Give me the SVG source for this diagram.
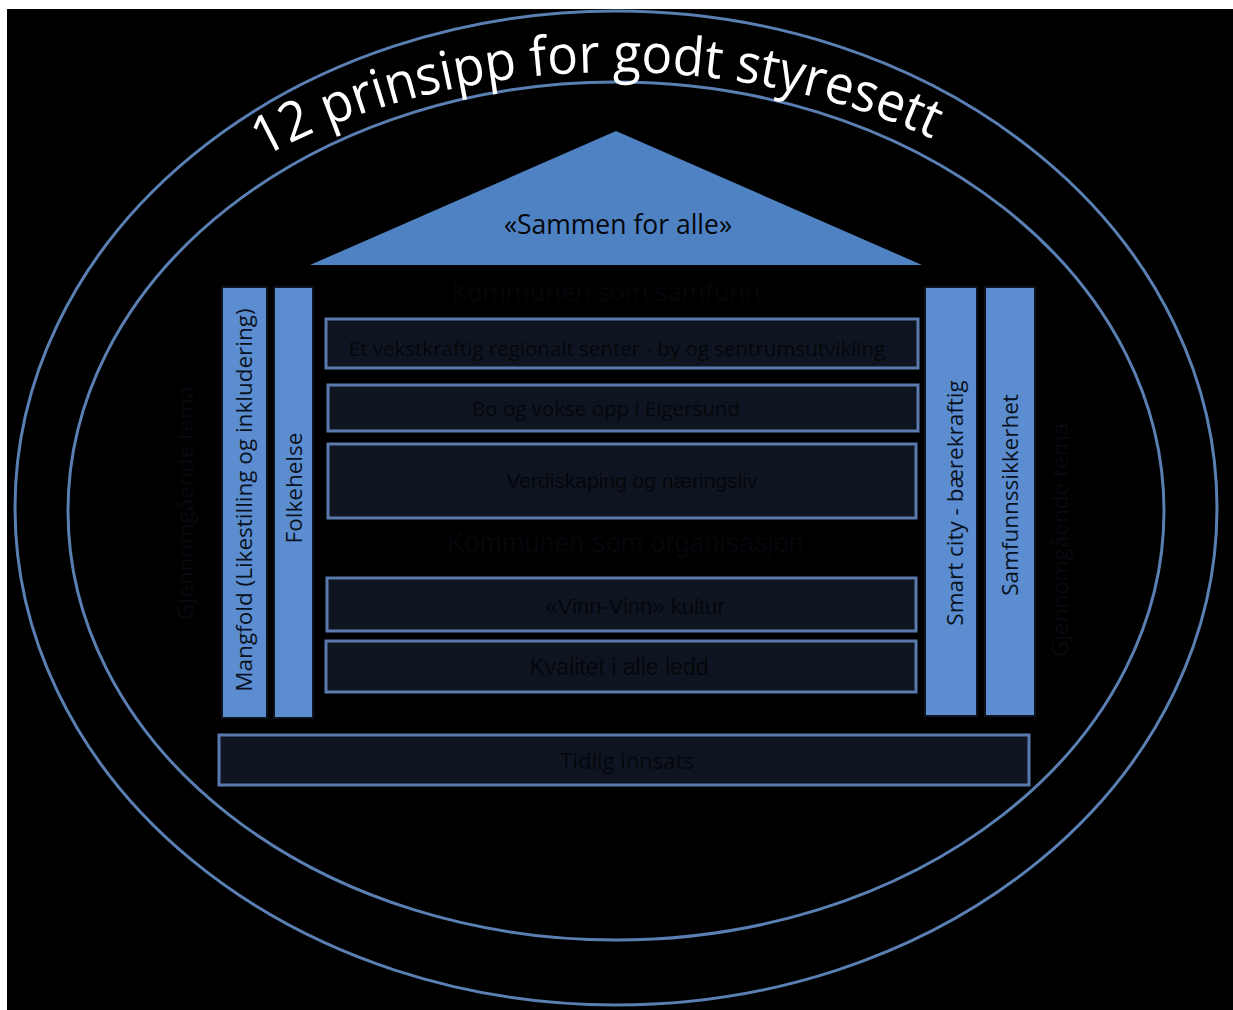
<svg xmlns="http://www.w3.org/2000/svg" width="1233" height="1010" viewBox="0 0 1233 1010">
<style>
.ring{fill:none;stroke:#5a7fb3;stroke-width:3}
.pillar{fill:#5b8dd0;stroke:#0d1420;stroke-width:2}
.box{fill:#0f1520;stroke:#5a7aae;stroke-width:3}
.t{font-family:"Open Sans","Liberation Sans",sans-serif;fill:#04070b;text-anchor:middle}
.a{font-family:"Liberation Sans",Arial,sans-serif;fill:#04070b;text-anchor:middle}
.pt{font-family:"Open Sans","Liberation Sans",sans-serif;fill:#0a1220;font-size:22.5px;text-anchor:middle}
.gt{font-family:"Open Sans","Liberation Sans",sans-serif;fill:#070a10;font-size:22.5px;text-anchor:middle}
</style>
<defs>
<path id="arc" d="M 21 508 A 595 436 0 0 1 1211 508"/>
</defs>
<rect x="0" y="0" width="1233" height="1010" fill="#ffffff"/>
<rect x="7" y="9" width="1226" height="1001" fill="#000000"/>
<g id="outer">
<ellipse cx="616" cy="508" rx="601" ry="497" fill="#000000" class="ring"/>
</g>
<g id="inner">
<ellipse cx="616" cy="511" rx="548" ry="429" fill="#111722" class="ring"/>
</g>
<g id="title">
<text font-family="'Open Sans','Liberation Sans',sans-serif" font-size="54" fill="#ffffff" text-anchor="middle"><textPath href="#arc" startOffset="794" textLength="692" lengthAdjust="spacingAndGlyphs">12 prinsipp for godt styresett</textPath></text>
</g>
<g id="roof">
<polygon points="616,131 310,265 922,265" fill="#4f82c3"/>
<text class="t" x="618" y="234" font-size="26.5">«Sammen for alle»</text>
</g>
<g id="heading1"><text class="t" x="606" y="301" font-size="25.5">Kommunen som samfunn</text></g>
<g id="box1"><rect class="box" x="326" y="319" width="592" height="49"/><text class="t" x="617" y="356" font-size="20.5">Et vekstkraftig regionalt senter - by og sentrumsutvikling</text></g>
<g id="box2"><rect class="box" x="328" y="385" width="590" height="46"/><text class="t" x="606" y="416" font-size="20.5">Bo og vokse opp i Eigersund</text></g>
<g id="box3"><rect class="box" x="328" y="444" width="588" height="74"/><text class="a" x="632" y="488" font-size="21">Verdiskaping og næringsliv</text></g>
<g id="heading2"><text class="a" x="625" y="552" font-size="27">Kommunen som organisasjon</text></g>
<g id="box4"><rect class="box" x="327" y="578" width="589" height="53"/><text class="a" x="635" y="614" font-size="22">«Vinn-Vinn» kultur</text></g>
<g id="box5"><rect class="box" x="326" y="641" width="590" height="51"/><text class="a" x="619" y="675" font-size="23">Kvalitet i alle ledd</text></g>
<g id="box6"><rect class="box" x="219" y="735" width="810" height="50"/><text class="t" x="627" y="769" font-size="22">Tidlig innsats</text></g>
<g id="pillar1"><rect class="pillar" x="222" y="287" width="45" height="431"/><text class="pt" transform="translate(252,500) rotate(-90)">Mangfold (Likestilling og inkludering)</text></g>
<g id="pillar2"><rect class="pillar" x="274" y="287" width="39" height="431"/><text class="pt" transform="translate(302,488) rotate(-90)">Folkehelse</text></g>
<g id="pillar3"><rect class="pillar" x="925" y="287" width="52" height="429"/><text class="pt" transform="translate(963,503) rotate(-90)">Smart city - bærekraftig</text></g>
<g id="pillar4"><rect class="pillar" x="985" y="287" width="50" height="429"/><text class="pt" transform="translate(1018,495) rotate(-90)">Samfunnssikkerhet</text></g>
<g id="theme-left"><text class="gt" transform="translate(193,503) rotate(-90)">Gjennomgående tema</text></g>
<g id="theme-right"><text class="gt" transform="translate(1068,540) rotate(-90)">Gjennomgående tema</text></g>
<g id="connectors"></g>
</svg>
